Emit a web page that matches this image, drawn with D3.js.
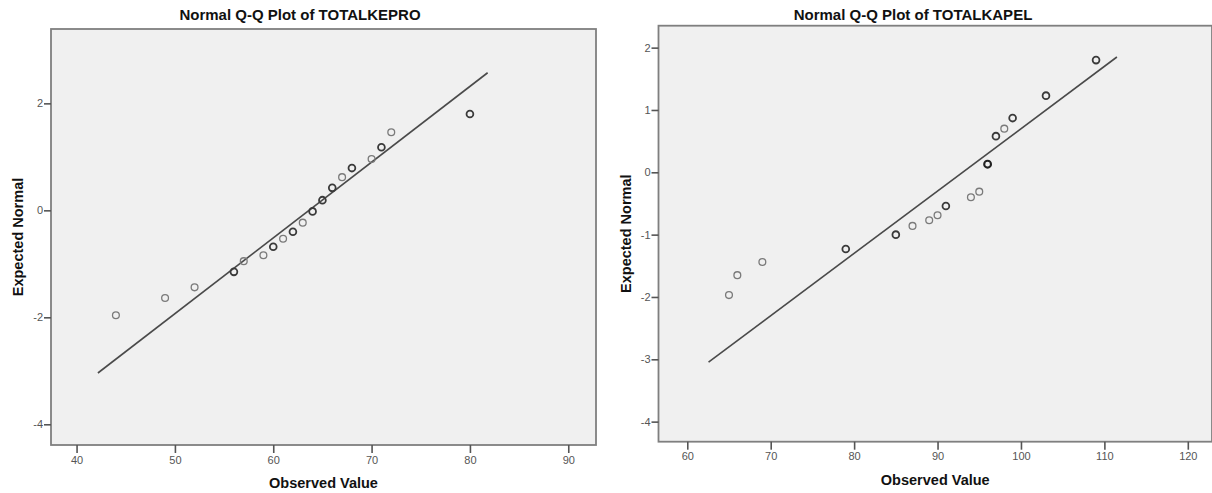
<!DOCTYPE html>
<html>
<head>
<meta charset="utf-8">
<script src="https://cdn.jsdelivr.net/npm/d3@7"></script>
<style>
  html, body { margin: 0; padding: 0; background: #fff; }
  svg { display: block; }
</style>
</head>
<body>
<svg id="chart" width="1212" height="493"></svg>
<script>
// ---------- DATA ----------
const titles = ["Normal Q-Q Plot of TOTALKEPRO", "Normal Q-Q Plot of TOTALKAPEL"];
const xAxisTitle = "Observed Value";
const yAxisTitle = "Expected Normal";

// Left panel (TOTALKEPRO)
const keproObserved = [44, 49, 52, 56, 57, 59, 60, 61, 62, 63, 64, 65, 66, 67, 68, 70, 71, 72, 80];
const keproExpected = [-1.96, -1.64, -1.44, -1.15, -0.95, -0.84, -0.68, -0.53, -0.40, -0.23, -0.02, 0.19, 0.42, 0.62, 0.79, 0.96, 1.18, 1.46, 1.80];
const keproCases    = [1, 1, 1, 2, 1, 1, 2, 1, 2, 1, 2, 2, 2, 1, 2, 1, 2, 1, 2];
const keproXTicks = [40, 50, 60, 70, 80, 90];
const keproYTicks = [-4, -2, 0, 2];
const keproXDomain = [37.4, 92.82];
const keproYDomain = [-4.387, 3.39];
const keproMean = 63.64, keproSD = 7.06;
const keproLineX = [42.17, 81.8];

// Right panel (TOTALKAPEL)
const kapelObserved = [65, 66, 69, 79, 85, 87, 89, 90, 91, 94, 95, 96, 97, 98, 99, 103, 109];
const kapelExpected = [-1.97, -1.65, -1.44, -1.23, -1.00, -0.86, -0.77, -0.69, -0.54, -0.40, -0.31, 0.13, 0.58, 0.70, 0.87, 1.23, 1.80];
const kapelCases    = [1, 1, 1, 2, 2, 1, 1, 1, 2, 1, 1, 3, 2, 1, 2, 2, 2];
const kapelXTicks = [60, 70, 80, 90, 100, 110, 120];
const kapelYTicks = [-4, -3, -2, -1, 0, 1, 2];
const kapelXDomain = [56.55, 122.9];
const kapelYDomain = [-4.322, 2.352];
const kapelMean = 93.0, kapelSD = 10.0;
const kapelLineX = [62.55, 111.5];

// ---------- LAYOUT ----------
const panels = [
  { title: titles[0], titleX: 300, obs: keproObserved, exp: keproExpected, cases: keproCases,
    xTicks: keproXTicks, yTicks: keproYTicks, xDomain: keproXDomain, yDomain: keproYDomain,
    mean: keproMean, sd: keproSD, lineX: keproLineX,
    frame: { x0: 51, x1: 596, y0: 29, y1: 445 }, yTitleX: 17.5 },
  { title: titles[1], titleX: 913, obs: kapelObserved, exp: kapelExpected, cases: kapelCases,
    xTicks: kapelXTicks, yTicks: kapelYTicks, xDomain: kapelXDomain, yDomain: kapelYDomain,
    mean: kapelMean, sd: kapelSD, lineX: kapelLineX,
    frame: { x0: 658.5, x1: 1212, y0: 25.7, y1: 441.7 }, yTitleX: 625.5 }
];

const svg = d3.select("#chart");
const FONT = "'Liberation Sans', Arial, Helvetica, sans-serif";
const fmt = d => String(d);  // plain hyphen-minus, integers

panels.forEach(p => {
  const f = p.frame;
  const x = d3.scaleLinear().domain(p.xDomain).range([f.x0, f.x1]);
  const y = d3.scaleLinear().domain(p.yDomain).range([f.y1, f.y0]);
  const g = svg.append("g");

  // plot background
  g.append("rect")
    .attr("x", f.x0).attr("y", f.y0)
    .attr("width", f.x1 - f.x0).attr("height", f.y1 - f.y0)
    .attr("fill", "#f0f0f0")
    .attr("stroke", "#7f7f7f").attr("stroke-width", 1.8);

  // x axis
  const xAxis = d3.axisBottom(x).tickValues(p.xTicks).tickFormat(fmt).tickSize(8).tickPadding(3).tickSizeOuter(0);
  const gx = g.append("g").attr("transform", `translate(0,${f.y1})`).call(xAxis);
  gx.select(".domain").remove();
  gx.selectAll(".tick line").attr("stroke", "#555").attr("stroke-width", 1.6);
  gx.selectAll(".tick text").attr("fill", "#555").attr("font-size", 11).attr("font-family", FONT);

  // y axis
  const yAxis = d3.axisLeft(y).tickValues(p.yTicks).tickFormat(fmt).tickSize(7).tickPadding(1).tickSizeOuter(0);
  const gy = g.append("g").attr("transform", `translate(${f.x0},0)`).call(yAxis);
  gy.select(".domain").remove();
  gy.selectAll(".tick line").attr("stroke", "#555").attr("stroke-width", 1.6);
  gy.selectAll(".tick text").attr("fill", "#555").attr("font-size", 11).attr("font-family", FONT);

  // reference line
  const lineData = p.lineX.map(v => ({ x: v, z: (v - p.mean) / p.sd }));
  g.append("path")
    .datum(lineData)
    .attr("d", d3.line().x(d => x(d.x)).y(d => y(d.z)))
    .attr("fill", "none").attr("stroke", "#4a4a4a").attr("stroke-width", 1.6);

  // points
  const pts = p.obs.map((v, i) => ({ x: v, z: p.exp[i], n: p.cases[i] }));
  g.selectAll("circle.pt").data(pts).enter().append("circle")
    .attr("class", "pt")
    .attr("cx", d => x(d.x)).attr("cy", d => y(d.z))
    .attr("r", 3.4)
    .attr("fill", "none")
    .attr("stroke", d => d.n >= 3 ? "#222" : d.n === 2 ? "#3a3a3a" : "#7a7a7a")
    .attr("stroke-width", d => d.n >= 3 ? 2.1 : d.n === 2 ? 1.8 : 1.3);

  // titles
  g.append("text")
    .attr("x", p.titleX).attr("y", 20)
    .attr("text-anchor", "middle")
    .attr("font-family", FONT).attr("font-weight", "bold").attr("font-size", 15)
    .attr("fill", "#111")
    .text(p.title);

  g.append("text")
    .attr("x", (f.x0 + f.x1) / 2).attr("y", f.y1 + 43)
    .attr("text-anchor", "middle")
    .attr("font-family", FONT).attr("font-weight", "bold").attr("font-size", 14.5)
    .attr("fill", "#111")
    .text(xAxisTitle);

  const cy = (f.y0 + f.y1) / 2;
  g.append("text")
    .attr("transform", `translate(${p.yTitleX + 5},${cy}) rotate(-90)`)
    .attr("text-anchor", "middle")
    .attr("font-family", FONT).attr("font-weight", "bold").attr("font-size", 14.5)
    .attr("fill", "#111")
    .text(yAxisTitle);
});
</script>
</body>
</html>
